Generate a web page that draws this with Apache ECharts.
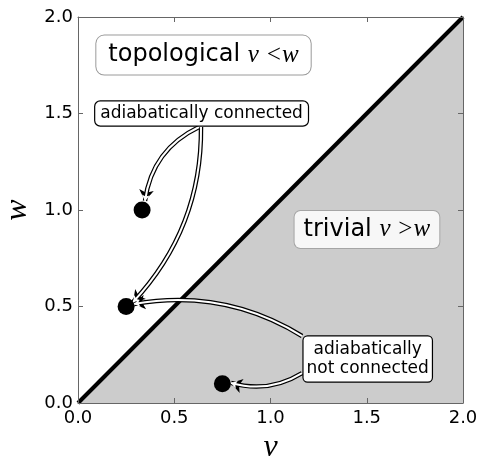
<!DOCTYPE html>
<html>
<head>
<meta charset="utf-8">
<script src="https://cdn.jsdelivr.net/npm/echarts@6/dist/echarts.min.js"></script>
<style>
html,body{margin:0;padding:0;background:#fff;}
#chart{width:482px;height:462px;}
</style>
</head>
<body>
<div id="chart"></div>
<script>
// ---- data ----
const axisTicks = [0, 0.5, 1.0, 1.5, 2.0];
const boundary = [[0, 0], [2, 2]];             // v = w
const points = [[0.333, 1.0], [0.25, 0.5], [0.75, 0.1]];
// annotation box anchors (v, w)
const boxTopological = [0.652, 1.803];
const boxTrivial = [1.501, 0.899];
const boxConnected = [0.642, 1.50];
const boxNotConnected = [1.505, 0.228];
// arrows: start, end, curveness
const arrowStarts = [[0.629, 1.430], [0.639, 1.430], [1.164, 0.347], [1.164, 0.155]];
const arrowEnds = [[0.348, 1.047], [0.286, 0.523], [0.291, 0.513], [0.795, 0.104]];
const arrowCurves = [-0.27, 0.2, -0.19, 0.22];

const sans = 'DejaVu Sans';
const serif = 'Liberation Serif';

function axisBase(pos, showLabel) {
  return {
    type: 'value', min: 0, max: 2, interval: 0.5, position: pos, z: 10,
    axisLine: {show: true, onZero: false, lineStyle: {color: '#666', width: 1}},
    axisTick: {show: true, inside: true, length: 5, lineStyle: {color: '#666'}},
    splitLine: {show: false},
    axisLabel: {show: showLabel, color: '#000', fontFamily: sans, fontSize: 18,
      formatter: v => v.toFixed(1)}
  };
}

const xMain = Object.assign(axisBase('bottom', true), {
  name: 'v', nameLocation: 'middle', nameGap: 28,
  nameTextStyle: {fontFamily: serif, fontStyle: 'italic', fontSize: 32, color: '#000'}
});
xMain.axisLabel.margin = 6;
const yMain = Object.assign(axisBase('left', true), {
  name: 'w', nameLocation: 'middle', nameGap: 42,
  nameTextStyle: {fontFamily: serif, fontStyle: 'italic', fontSize: 32, color: '#000'}
});
yMain.axisLabel.margin = 5;

const arrowData = arrowStarts.map((s, i) => ({coords: [s, arrowEnds[i]], lineStyle: {curveness: arrowCurves[i]}}));

function box(pos, formatter, opts) {
  return {value: pos, label: Object.assign({formatter: formatter, color: '#000'}, opts)};
}

const mathStyle = {fontFamily: serif, fontStyle: 'italic', fontSize: 25, color: '#000'};
const wordStyle = {fontFamily: sans, fontSize: 24, color: '#000'};

const chart = echarts.init(document.getElementById('chart'), null, {renderer: 'canvas'});
chart.setOption({
  animation: false,
  backgroundColor: '#fff',
  grid: {left: 78, top: 17, right: 19, bottom: 59, containLabel: false, outerBoundsMode: 'none'},
  xAxis: [xMain, axisBase('top', false)],
  yAxis: [yMain, axisBase('right', false)],
  series: [
    {
      type: 'line', data: boundary, symbol: 'none', z: 1,
      lineStyle: {color: '#000', width: 4},
      areaStyle: {color: '#cccccc', opacity: 1}
    },
    {
      type: 'lines', coordinateSystem: 'cartesian2d', z: 3,
      symbol: ['none', 'arrow'], symbolSize: 11,
      lineStyle: {color: '#000', width: 4.5, opacity: 1},
      data: arrowData
    },
    {
      type: 'lines', coordinateSystem: 'cartesian2d', z: 4,
      symbol: ['none', 'arrow'], symbolSize: 6,
      lineStyle: {color: '#fff', width: 2, opacity: 1},
      data: arrowData
    },
    {
      type: 'scatter', data: points, symbolSize: 17, z: 5,
      itemStyle: {color: '#000', opacity: 1}
    },
    {
      type: 'scatter', z: 8, symbolSize: 0,
      itemStyle: {opacity: 1, color: '#000'},
      label: {show: true, position: 'inside', color: '#000', fontFamily: sans},
      data: [
        box(boxTopological, '{t|topological }{m|v <w}', {
          backgroundColor: '#fff', borderColor: '#9a9a9a', borderWidth: 1, borderRadius: 8,
          padding: [7, 12, 7, 12],
          rich: {t: wordStyle, m: mathStyle}
        }),
        box(boxTrivial, '{t|trivial }{m|v >w}', {
          backgroundColor: '#f7f7f7', borderColor: '#a5a5a5', borderWidth: 1, borderRadius: 6,
          padding: [6, 9, 6, 9],
          rich: {t: wordStyle, m: mathStyle}
        }),
        box(boxConnected, 'adiabatically connected', {
          backgroundColor: '#fff', borderColor: '#000', borderWidth: 1.2, borderRadius: 5,
          padding: [4, 5, 3, 5], fontSize: 17, fontFamily: sans
        }),
        box(boxNotConnected, 'adiabatically\nnot connected', {
          backgroundColor: '#fff', borderColor: '#000', borderWidth: 1.2, borderRadius: 4,
          padding: [4, 3, 3, 3], fontSize: 17, lineHeight: 19, fontFamily: sans, align: 'center'
        })
      ]
    }
  ]
});
</script>
</body>
</html>
